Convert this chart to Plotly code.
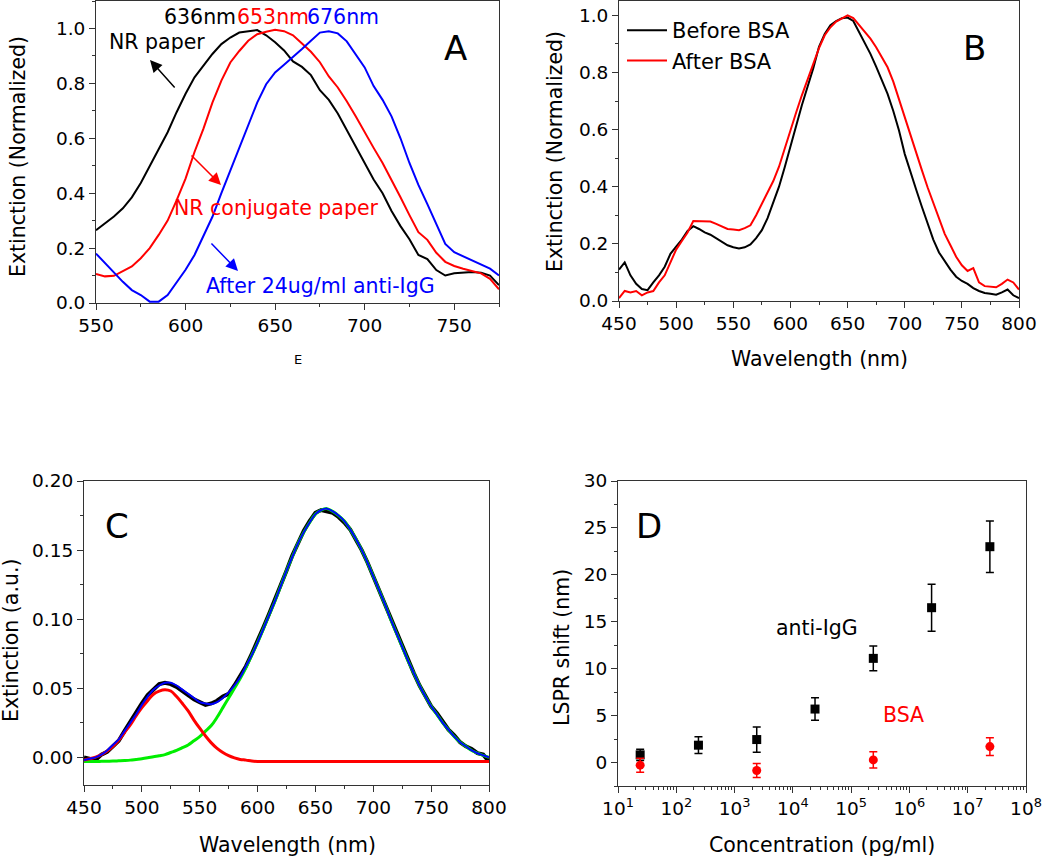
import plotly.graph_objects as go

# ---------------- Panel A data (wavelength 550..775 nm, 5 nm step) ----------------
wl_a = list(range(550, 776, 5))
nr_paper = [0.265, 0.29, 0.315, 0.345, 0.385, 0.437, 0.497, 0.558, 0.622, 0.695,
            0.762, 0.822, 0.864, 0.907, 0.943, 0.967, 0.985, 0.99, 0.994, 0.975,
            0.95, 0.92, 0.88, 0.86, 0.83, 0.775, 0.74, 0.69, 0.63, 0.573,
            0.51, 0.45, 0.40, 0.335, 0.28, 0.232, 0.175, 0.16, 0.12, 0.10,
            0.108, 0.11, 0.113, 0.11, 0.10, 0.065]
nr_conj = [0.106, 0.097, 0.099, 0.115, 0.133, 0.163, 0.20, 0.248, 0.30, 0.374,
           0.453, 0.55, 0.635, 0.73, 0.81, 0.876, 0.918, 0.955, 0.979, 0.988,
           0.995, 0.99, 0.975, 0.945, 0.915, 0.877, 0.825, 0.785, 0.735, 0.68,
           0.62, 0.565, 0.51, 0.45, 0.385, 0.32, 0.258, 0.23, 0.183, 0.15,
           0.135, 0.125, 0.117, 0.108, 0.088, 0.05]
anti_igg = [0.18, 0.145, 0.109, 0.077, 0.047, 0.029, 0.005, 0.005, 0.029, 0.073,
            0.121, 0.175, 0.242, 0.314, 0.40, 0.484, 0.568, 0.653, 0.73, 0.797,
            0.84, 0.868, 0.895, 0.925, 0.955, 0.985, 0.99, 0.982, 0.953, 0.905,
            0.858, 0.79, 0.74, 0.68, 0.60, 0.51, 0.43, 0.36, 0.285, 0.215,
            0.185, 0.17, 0.155, 0.14, 0.125, 0.10]

# ---------------- Panel B data (450..800 nm, 5 nm step) ----------------
wl_b = list(range(450, 801, 5))
before_bsa = [0.11, 0.135, 0.09, 0.06, 0.042, 0.038, 0.065, 0.09, 0.12, 0.165,
              0.19, 0.215, 0.245, 0.262, 0.252, 0.24, 0.232, 0.22, 0.205, 0.195,
              0.188, 0.184, 0.188, 0.198, 0.22, 0.248, 0.29, 0.345, 0.40, 0.468,
              0.54, 0.617, 0.685, 0.75, 0.815, 0.89, 0.935, 0.965, 0.98, 0.99,
              0.992, 0.98, 0.943, 0.905, 0.865, 0.82, 0.775, 0.725, 0.665, 0.597,
              0.515, 0.45, 0.39, 0.33, 0.27, 0.215, 0.17, 0.138, 0.11, 0.085,
              0.07, 0.06, 0.045, 0.035, 0.028, 0.025, 0.022, 0.03, 0.04, 0.02,
              0.01]
after_bsa = [0.01, 0.035, 0.03, 0.035, 0.02, 0.03, 0.035, 0.065, 0.09, 0.135,
             0.18, 0.21, 0.24, 0.28, 0.28, 0.278, 0.278, 0.27, 0.26, 0.252,
             0.25, 0.248, 0.255, 0.265, 0.30, 0.34, 0.38, 0.42, 0.47, 0.535,
             0.598, 0.66, 0.72, 0.775, 0.83, 0.885, 0.93, 0.958, 0.978, 0.99,
             1.0, 0.99, 0.965, 0.94, 0.918, 0.888, 0.855, 0.818, 0.768, 0.705,
             0.64, 0.58, 0.518, 0.458, 0.398, 0.345, 0.29, 0.235, 0.195, 0.155,
             0.125, 0.105, 0.115, 0.065, 0.052, 0.05, 0.048, 0.06, 0.075, 0.065,
             0.04]

# ---------------- Panel C data (450..800 nm, 5 nm step) ----------------
wl_c = list(range(450, 801, 5))
measured_c = [0.0, -0.001, -0.002, 0.002, 0.004, 0.008, 0.012, 0.019, 0.026, 0.032,
              0.039, 0.045, 0.049, 0.053, 0.054, 0.053, 0.051, 0.048, 0.045, 0.042,
              0.040, 0.038, 0.039, 0.041, 0.044, 0.046, 0.052, 0.059, 0.066, 0.075,
              0.084, 0.094, 0.104, 0.114, 0.125, 0.135, 0.146, 0.155, 0.164, 0.171,
              0.177, 0.179, 0.178, 0.177, 0.174, 0.170, 0.165, 0.158, 0.150, 0.141,
              0.131, 0.121, 0.111, 0.101, 0.090, 0.080, 0.071, 0.061, 0.052, 0.044,
              0.037, 0.032, 0.026, 0.020, 0.016, 0.011, 0.008, 0.006, 0.003, 0.002,
              -0.003]
peak1_fit = [-0.002, -0.001, 0.0002, 0.002, 0.0046, 0.008, 0.0124, 0.018, 0.0235, 0.030,
             0.036, 0.041, 0.0457, 0.048, 0.049, 0.048, 0.044, 0.039, 0.0336, 0.027,
             0.0211, 0.0155, 0.0105, 0.0065, 0.0035, 0.0012, -0.0004, -0.0015, -0.002, -0.0027,
             -0.003, -0.003, -0.003, -0.003, -0.003, -0.003, -0.003, -0.003, -0.003, -0.003,
             -0.003, -0.003, -0.003, -0.003, -0.003, -0.003, -0.003, -0.003, -0.003, -0.003,
             -0.003, -0.003, -0.003, -0.003, -0.003, -0.003, -0.003, -0.003, -0.003, -0.003,
             -0.003, -0.003, -0.003, -0.003, -0.003, -0.003, -0.003, -0.003, -0.003, -0.003,
             -0.003]
peak2_fit = [-0.003, -0.003, -0.003, -0.0029, -0.0028, -0.0027, -0.0025, -0.0023, -0.002, -0.0015,
             -0.001, -0.0003, 0.0005, 0.0012, 0.002, 0.0035, 0.005, 0.007, 0.009, 0.012,
             0.015, 0.019, 0.023, 0.029, 0.036, 0.043, 0.050, 0.057, 0.065, 0.074,
             0.083, 0.093, 0.103, 0.113, 0.124, 0.135, 0.145, 0.155, 0.163, 0.170,
             0.176, 0.179, 0.180, 0.178, 0.175, 0.171, 0.165, 0.158, 0.150, 0.141,
             0.131, 0.121, 0.111, 0.100, 0.090, 0.080, 0.070, 0.061, 0.052, 0.044,
             0.037, 0.031, 0.025, 0.020, 0.015, 0.011, 0.008, 0.005, 0.003, 0.0015,
             0.0]
total_fit = [-0.002, -0.001, 0.0, 0.002, 0.005, 0.009, 0.013, 0.019, 0.025, 0.031,
             0.038, 0.044, 0.049, 0.052, 0.054, 0.054, 0.052, 0.049, 0.046, 0.043,
             0.040, 0.039, 0.0385, 0.040, 0.043, 0.047, 0.052, 0.058, 0.066, 0.074,
             0.083, 0.093, 0.103, 0.113, 0.124, 0.135, 0.145, 0.155, 0.163, 0.170,
             0.176, 0.179, 0.180, 0.178, 0.175, 0.171, 0.165, 0.158, 0.150, 0.141,
             0.131, 0.121, 0.111, 0.100, 0.090, 0.080, 0.070, 0.061, 0.052, 0.044,
             0.037, 0.031, 0.025, 0.020, 0.015, 0.011, 0.008, 0.005, 0.003, 0.0015,
             0.0]

# ---------------- Panel D data ----------------
conc_igg = [24, 240, 2400, 24000, 240000, 2400000, 24000000]
shift_igg = [0.82, 1.85, 2.45, 5.7, 11.1, 16.5, 23.0]
err_igg = [0.6, 0.9, 1.35, 1.2, 1.33, 2.5, 2.75]
conc_bsa = [24, 2400, 240000, 24000000]
shift_bsa = [-0.28, -0.85, 0.28, 1.7]
err_bsa = [0.75, 0.75, 0.87, 0.94]
conc_tickvals = [1e1, 1e2, 1e3, 1e4, 1e5, 1e6, 1e7, 1e8]
conc_ticktext = ["10<sup>1</sup>", "10<sup>2</sup>", "10<sup>3</sup>", "10<sup>4</sup>",
                 "10<sup>5</sup>", "10<sup>6</sup>", "10<sup>7</sup>", "10<sup>8</sup>"]

W, H = 1050, 858
FONT = "DejaVu Sans, Arial, sans-serif"
TICK = 18.5
LBL = 20.5


def PX(x):
    return x / W


def PY(y):
    return 1 - y / H


fig = go.Figure()

# Panel A
fig.add_trace(go.Scatter(x=wl_a, y=nr_paper, mode="lines", line=dict(color="black", width=2),
                         showlegend=False, xaxis="x", yaxis="y"))
fig.add_trace(go.Scatter(x=wl_a, y=nr_conj, mode="lines", line=dict(color="#ff0000", width=2),
                         showlegend=False, xaxis="x", yaxis="y"))
fig.add_trace(go.Scatter(x=wl_a, y=anti_igg, mode="lines", line=dict(color="#0000ff", width=2),
                         showlegend=False, xaxis="x", yaxis="y"))

# Panel B
fig.add_trace(go.Scatter(x=wl_b, y=before_bsa, mode="lines", name="Before BSA",
                         line=dict(color="black", width=2), xaxis="x2", yaxis="y2"))
fig.add_trace(go.Scatter(x=wl_b, y=after_bsa, mode="lines", name="After BSA",
                         line=dict(color="#ff0000", width=2), xaxis="x2", yaxis="y2"))

# Panel C
fig.add_trace(go.Scatter(x=wl_c, y=measured_c, mode="lines", line=dict(color="black", width=4),
                         showlegend=False, xaxis="x3", yaxis="y3"))
fig.add_trace(go.Scatter(x=wl_c, y=peak2_fit, mode="lines", line=dict(color="#00ee00", width=3, shape="spline"),
                         showlegend=False, xaxis="x3", yaxis="y3"))
fig.add_trace(go.Scatter(x=wl_c, y=peak1_fit, mode="lines", line=dict(color="#ff0000", width=3, shape="spline"),
                         showlegend=False, xaxis="x3", yaxis="y3"))
fig.add_trace(go.Scatter(x=wl_c, y=total_fit, mode="lines", line=dict(color="#0000ff", width=2, shape="spline"),
                         showlegend=False, xaxis="x3", yaxis="y3"))

# Panel D
fig.add_trace(go.Scatter(x=conc_igg, y=shift_igg, mode="markers",
                         marker=dict(symbol="square", size=9, color="black"),
                         error_y=dict(type="data", array=err_igg, color="black", thickness=1.5, width=4),
                         showlegend=False, xaxis="x4", yaxis="y4"))
fig.add_trace(go.Scatter(x=conc_bsa, y=shift_bsa, mode="markers",
                         marker=dict(symbol="circle", size=9, color="#ff0000"),
                         error_y=dict(type="data", array=err_bsa, color="#ff0000", thickness=1.5, width=4),
                         showlegend=False, xaxis="x4", yaxis="y4"))

axis_common = dict(showline=True, linecolor="#333333", linewidth=1, mirror=True,
                   ticks="outside", ticklen=6, tickwidth=1, tickcolor="#333333",
                   showgrid=False, zeroline=False, automargin=False,
                   tickfont=dict(family=FONT, size=TICK, color="black"))
minor_common = dict(ticks="outside", ticklen=3, tickcolor="#333333", showgrid=False)

fig.update_layout(
    template="none",
    width=W, height=H,
    margin=dict(l=0, r=0, t=0, b=0, autoexpand=False),
    paper_bgcolor="white", plot_bgcolor="white",
    font=dict(family=FONT, size=LBL, color="black"),
    xaxis=dict(domain=[PX(96), PX(499)], range=[550, 775], dtick=50, anchor="y",
               minor=dict(dtick=25, **minor_common), **axis_common),
    yaxis=dict(domain=[PY(303), PY(1)], range=[0, 1.1], dtick=0.2, tickformat=".1f", anchor="x",
               minor=dict(dtick=0.1, **minor_common), **axis_common),
    xaxis2=dict(domain=[PX(619), PX(1019)], range=[450, 800], dtick=50, anchor="y2",
                minor=dict(dtick=25, **minor_common), **axis_common),
    yaxis2=dict(domain=[PY(301), PY(1)], range=[0, 1.05], dtick=0.2, tickformat=".1f", anchor="x2",
                minor=dict(dtick=0.1, **minor_common), **axis_common),
    xaxis3=dict(domain=[PX(84), PX(489)], range=[450, 800], dtick=50, anchor="y3",
                minor=dict(dtick=25, **minor_common), **axis_common),
    yaxis3=dict(domain=[PY(785), PY(481)], range=[-0.02, 0.2], dtick=0.05, tick0=0, tickformat=".2f", anchor="x3",
                minor=dict(dtick=0.025, **minor_common), **axis_common),
    xaxis4=dict(domain=[PX(618), PX(1026)], type="log", range=[1, 8],
                tickmode="array", tickvals=conc_tickvals, ticktext=conc_ticktext,
                anchor="y4", minor=dict(dtick="D1", **minor_common), **axis_common),
    yaxis4=dict(domain=[PY(786), PY(481)], range=[-2.5, 30], dtick=5, tick0=0, anchor="x4",
                minor=dict(dtick=2.5, **minor_common), **axis_common),
    legend=dict(x=PX(622), y=PY(10), xanchor="left", yanchor="top", bgcolor="rgba(0,0,0,0)",
                font=dict(family=FONT, size=21, color="black"), tracegroupgap=0, itemwidth=40),
)


def text(x, y, s, size=LBL, color="black", angle=0):
    fig.add_annotation(x=PX(x), y=PY(y), xref="paper", yref="paper", text=s, showarrow=False,
                       textangle=angle, xanchor="center", yanchor="middle",
                       font=dict(family=FONT, size=size, color=color))


def arrow(tipx, tipy, tailx, taily, color):
    fig.add_annotation(x=PX(tipx), y=PY(tipy), xref="paper", yref="paper", text="",
                       showarrow=True, ax=tailx - tipx, ay=taily - tipy, axref="pixel", ayref="pixel",
                       arrowhead=2, arrowsize=1.6, arrowwidth=1.5, arrowcolor=color)


# axis titles
text(18, 157, "Extinction (Normalized)", angle=-90)
text(298, 359, "E", size=13)
text(555, 152, "Extinction (Normalized)", angle=-90)
text(819, 359, "Wavelength (nm)")
text(11, 641, "Extinction (a.u.)", angle=-90)
text(287, 845, "Wavelength (nm)")
text(562, 648, "LSPR shift (nm)", angle=-90)
text(822, 845, "Concentration (pg/ml)")

# panel letters
text(455, 48, "A", size=34)
text(974, 48, "B", size=34)
text(117, 526, "C", size=34)
text(649, 526, "D", size=34)

# panel A labels
text(200, 17, "636nm", color="black")
text(273, 17, "653nm", color="#ff0000")
text(343, 17, "676nm", color="#0000ff")
text(157, 42, "NR paper", color="black")
text(276, 208, "NR conjugate paper", color="#ff0000")
text(320, 286, "After 24ug/ml anti-IgG", color="#0000ff")
arrow(150, 60, 176, 89, "black")
arrow(221, 185, 190, 154, "#ff0000")
arrow(238, 271, 210, 242, "#0000ff")

# panel D labels
text(817, 628, "anti-IgG", color="black")
text(903, 715, "BSA", color="#ff0000")

fig.write_html("out.html",
               config={"displayModeBar": False},
               post_script="document.body.style.margin='0';document.body.style.overflow='hidden';")
